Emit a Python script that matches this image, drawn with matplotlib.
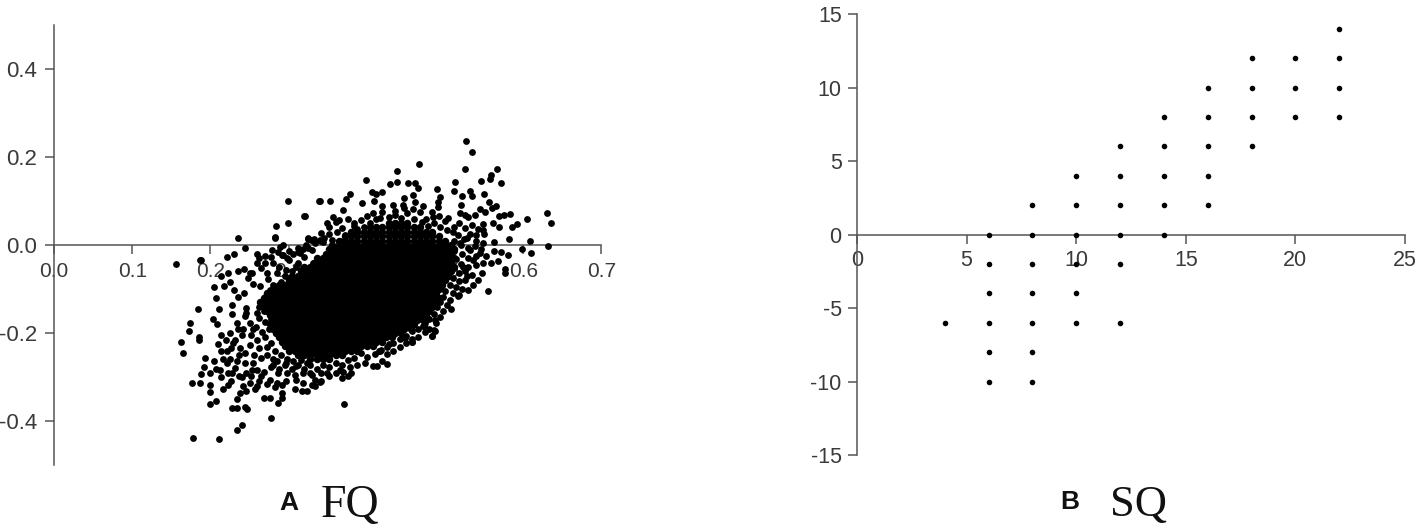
import matplotlib
matplotlib.use("Agg")
import matplotlib.pyplot as plt

W, H = 1417, 525
AXIS = "#555555"
TXT = "#3a3a3a"

# Panel A: outer points
fq_x = [.527,.535,.525,.566,.467,.439,.399,.559,.557,.546,.572,.513,.430,.439,.453,.462,.466,.490,.511,.532,.522,.534,.550,.407,.420,.412,.378,.459,.448,.493,.374,.340,.353,.394,.409,.462,.491,.556,.520,.565,.560,.545,.551,.419,.433,.446,.472,.459,.491,.631,.636,.605,.583,.575,.569,.539,.519,.525,.530,.561,.569,.592,.586,.549,.582,.609,.632,.599,.610,.580,.572,.563,.563,.559,.568,.577,.577,.555,.547,.542,.536,.530,.517,.508,.487,.486,.484,.473,.458,.449,.429,.417,.321,.325,.332,.341,.349,.357,.370,.364,.383,.342,.408,.417,.436,.447,.485,.504,.511,.528,.540,.549,.519,.532,.545,.536,.523,.528,
        .299,.339,.320,.284,.299,.235,.283,.325,.331,.244,.230,.221,.188,.260,.270,.279,.289,.301,.293,.312,.325,
        .282,.156,.187,.259,.292,.300,.223,.235,.243,.253,.248,.225,.214,.205,.218,.230,.255,.243,.235,.207,.184,.211,.228,.227,.246,.203,.209,.174,.173,.185,.186,.162,.165,.193,.204,.192,.188,.176,.187,.199,.199,.207,.199,.216,.222,.199,.207,.227,.234,.244,.247,.240,.234,.278,.178,.211,.371,.287,.292,.291,.234,.238,.246,.257,.268,.276,.308,.317,.323,.334,.342,.368,.376,.408,.413,.419,.426,.415,.458,.472,.487,.484,
        .210,.214,.221,.225,.214,.229,.238,.244,.225,.234,.244,.253,.221,.227,.236,.246,.251,.259,.265,.276,.285,.297,.310,.319,.334,.349,.366,.244,.251,.242,.255,.234,.259,.246,.270,.255,.259,.272,.285,.297,.310,.327,.251,.265,.272,.280,.315,.329,.340,.293,.319,.263,.276,.285,.297,.310,.331]
fq_y = [.236,.212,.172,.173,.184,.168,.148,.158,.149,.145,.142,.143,.138,.144,.140,.142,.129,.128,.123,.123,.112,.112,.117,.121,.121,.116,.115,.113,.107,.108,.104,.099,.099,.095,.101,.097,.098,.098,.092,.089,.083,.082,.076,.089,.091,.091,.089,.081,.087,.073,.049,.059,.071,.068,.066,.069,.072,.068,.064,.049,.042,.048,.042,.048,.013,.010,-.002,-.010,-.019,-.022,-.015,-.013,.006,-.041,-.037,-.054,-.063,-.105,-.064,-.079,-.091,-.102,-.117,-.145,-.170,-.194,-.206,-.185,-.221,-.211,-.226,-.241,.065,.015,.013,.010,.049,.064,.080,.057,.049,.028,.072,.061,.068,.083,.064,.061,.042,.015,.023,.034,.004,-.011,-.019,-.034,-.049,-.071,
        .100,.100,.066,.043,.050,.016,.018,.014,.011,-.007,-.020,-.027,-.034,-.020,-.025,-.011,-.005,-.014,-.023,-.016,-.007,
        .017,-.044,-.034,-.041,-.023,-.035,-.064,-.060,-.055,-.063,-.075,-.083,-.070,-.095,-.094,-.103,-.088,-.109,-.119,-.121,-.145,-.146,-.136,-.156,-.143,-.168,-.179,-.177,-.196,-.208,-.217,-.220,-.245,-.257,-.264,-.278,-.293,-.313,-.313,-.319,-.291,-.282,-.334,-.327,-.319,-.361,-.354,-.370,-.371,-.368,-.372,-.408,-.420,-.393,-.438,-.442,-.362,-.359,-.336,-.347,-.350,-.336,-.332,-.328,-.347,-.347,-.328,-.331,-.332,-.321,-.310,-.302,-.298,-.274,-.274,-.264,-.270,-.242,-.221,-.183,-.196,-.206,
        -.226,-.242,-.242,-.200,-.204,-.223,-.234,-.245,-.260,-.264,-.268,-.283,-.268,-.291,-.298,-.291,-.313,-.321,-.298,-.306,-.313,-.310,-.306,-.313,-.306,-.291,-.283,-.162,-.177,-.192,-.192,-.177,-.155,-.155,-.128,-.268,-.283,-.249,-.264,-.268,-.276,-.291,-.064,-.053,-.064,-.042,-.019,.011,.011,.000,-.008,-.094,-.102,-.064,-.057,-.049,-.042]

# Panel A: porous belt around the core, estimated point by point
fq_ring_x = [.352,.360,.368,.376,.384,.392,.352,.362,.372,.380,.388,.396,.345,.356,.366,.400,.404,.412,.420,.428,.436,.444,.452,.460,.468,.476,.484,.492,.500,.470,.478,.486,.494,.502,.510,.518,.526,.534,.542,.550,.516,.524,.532,.540,.548,.512,.520,.530,.538,.546,.552,.512,.522,.530,.540,.548,.514,.520,.530,.540,.512,.518,.526,.534,.510,.518,.526,.506,.514,.522,.500,.510,.518,.498,.506,.494,.503,.490,.498,.486,.494,.480,.488,.474,.480,.466,.474,.458,.466,.450,.458,.442,.450,.434,.442,.426,.434,.418,.426,.410,.400,.392,.384,.376,.398,.388,.378,.368,.360,.352,.344,.336,.328,.320,.312,.304,.296,.288,.280,
             .262,.270,.278,.258,.266,.275,.252,.260,.270,.278,.250,.262,.272,.282,.256,.265,.290,.298,.280,.306,.316,.324,.252,.262,.272,.282,.292,.268,.278,.286,.298,.308,.318,.330,.342,.352,.360,.370,.380,.340,.330,
             .235,.240,.232,.220,.226,.236,.216,.212,.222,.232,.240,.242,.214,.226,
             .268,.276,.262,.270,.278,.286,.280,.290,.274,.296,.304,.288,.312,.298,.306,.320,.330,.322,.334,.312,.344,.270,.278,.286,.262]
fq_ring_y = [.040,.052,.038,.060,.044,.056,.024,.030,.022,.030,.036,.040,.016,.012,.010,.066,.050,.060,.074,.064,.078,.062,.072,.060,.074,.058,.076,.066,.054,.052,.044,.050,.040,.034,.030,.050,.038,.046,.036,.026,.022,.014,.026,.010,.004,.008,.000,-.006,-.002,-.010,-.024,-.014,-.020,-.030,-.026,-.040,-.032,-.044,-.050,-.046,-.052,-.064,-.060,-.068,-.074,-.082,-.080,-.090,-.096,-.100,-.104,-.110,-.114,-.118,-.124,-.130,-.136,-.142,-.150,-.156,-.164,-.168,-.178,-.178,-.190,-.190,-.198,-.196,-.208,-.206,-.214,-.214,-.222,-.222,-.232,-.232,-.240,-.238,-.248,-.248,-.254,-.246,-.256,-.262,-.268,-.272,-.278,-.272,-.268,-.278,-.272,-.282,-.272,-.282,-.272,-.282,-.272,-.282,-.272,
             -.165,-.176,-.168,-.186,-.198,-.190,-.205,-.215,-.210,-.222,-.228,-.235,-.232,-.240,-.250,-.256,-.250,-.258,-.258,-.264,-.262,-.268,-.298,-.310,-.316,-.322,-.318,-.288,-.278,-.290,-.292,-.296,-.292,-.296,-.290,-.298,-.292,-.288,-.290,-.312,-.318,
             -.190,-.205,-.215,-.215,-.235,-.250,-.260,-.285,-.292,-.280,-.300,-.320,-.300,-.310,
             -.150,-.140,-.140,-.118,-.125,-.110,-.090,-.085,-.078,-.070,-.060,-.050,-.040,-.030,-.020,-.028,-.012,.000,.004,-.006,.006,-.040,-.028,-.016,-.030]

# Panel A: solid core, rough estimates (points cannot be told apart here)
fq_core_y = [.05,.04,.03,.02,.01,.00,-.01,-.02,-.03,-.04,-.05,-.06,-.07,-.08,-.09,-.10,-.11,-.12,-.13,-.14,-.15,-.16,-.17,-.18,-.19,-.20,-.21,-.22,-.23,-.24,-.25,-.26]
fq_core_x = [
 [.428,.436,.444,.452],
 [.404,.412,.420,.428,.436,.444,.452,.460,.468],
 [.380,.388,.396,.404,.412,.420,.428,.436,.444,.452,.460,.468,.476,.484],
 [.372,.380,.388,.396,.404,.412,.420,.428,.436,.444,.452,.460,.468,.476,.484,.492],
 [.364,.372,.380,.388,.396,.404,.412,.420,.428,.436,.444,.452,.460,.468,.476,.484,.492,.500],
 [.356,.364,.372,.380,.388,.396,.404,.412,.420,.428,.436,.444,.452,.460,.468,.476,.484,.492,.500,.508],
 [.352,.360,.368,.376,.384,.392,.400,.408,.416,.424,.432,.440,.448,.456,.464,.472,.480,.488,.496,.504,.512],
 [.348,.356,.364,.372,.380,.388,.396,.404,.412,.420,.428,.436,.444,.452,.460,.468,.476,.484,.492,.500,.508],
 [.336,.344,.352,.360,.368,.376,.384,.392,.400,.408,.416,.424,.432,.440,.448,.456,.464,.472,.480,.488,.496,.504,.512],
 [.332,.340,.348,.356,.364,.372,.380,.388,.396,.404,.412,.420,.428,.436,.444,.452,.460,.468,.476,.484,.492,.500,.508],
 [.320,.328,.336,.344,.352,.360,.368,.376,.384,.392,.400,.408,.416,.424,.432,.440,.448,.456,.464,.472,.480,.488,.496,.504,.512],
 [.316,.324,.332,.340,.348,.356,.364,.372,.380,.388,.396,.404,.412,.420,.428,.436,.444,.452,.460,.468,.476,.484,.492,.500,.508],
 [.304,.312,.320,.328,.336,.344,.352,.360,.368,.376,.384,.392,.400,.408,.416,.424,.432,.440,.448,.456,.464,.472,.480,.488,.496,.504],
 [.300,.308,.316,.324,.332,.340,.348,.356,.364,.372,.380,.388,.396,.404,.412,.420,.428,.436,.444,.452,.460,.468,.476,.484,.492,.500],
 [.288,.296,.304,.312,.320,.328,.336,.344,.352,.360,.368,.376,.384,.392,.400,.408,.416,.424,.432,.440,.448,.456,.464,.472,.480,.488,.496],
 [.284,.292,.300,.308,.316,.324,.332,.340,.348,.356,.364,.372,.380,.388,.396,.404,.412,.420,.428,.436,.444,.452,.460,.468,.476,.484,.492],
 [.272,.280,.288,.296,.304,.312,.320,.328,.336,.344,.352,.360,.368,.376,.384,.392,.400,.408,.416,.424,.432,.440,.448,.456,.464,.472,.480,.488],
 [.268,.276,.284,.292,.300,.308,.316,.324,.332,.340,.348,.356,.364,.372,.380,.388,.396,.404,.412,.420,.428,.436,.444,.452,.460,.468,.476,.484,.492],
 [.264,.272,.280,.288,.296,.304,.312,.320,.328,.336,.344,.352,.360,.368,.376,.384,.392,.400,.408,.416,.424,.432,.440,.448,.456,.464,.472,.480,.488],
 [.268,.276,.284,.292,.300,.308,.316,.324,.332,.340,.348,.356,.364,.372,.380,.388,.396,.404,.412,.420,.428,.436,.444,.452,.460,.468,.476,.484],
 [.272,.280,.288,.296,.304,.312,.320,.328,.336,.344,.352,.360,.368,.376,.384,.392,.400,.408,.416,.424,.432,.440,.448,.456,.464,.472,.480],
 [.276,.284,.292,.300,.308,.316,.324,.332,.340,.348,.356,.364,.372,.380,.388,.396,.404,.412,.420,.428,.436,.444,.452,.460,.468,.476],
 [.280,.288,.296,.304,.312,.320,.328,.336,.344,.352,.360,.368,.376,.384,.392,.400,.408,.416,.424,.432,.440,.448,.456,.464,.472],
 [.276,.284,.292,.300,.308,.316,.324,.332,.340,.348,.356,.364,.372,.380,.388,.396,.404,.412,.420,.428,.436,.444,.452,.460],
 [.280,.288,.296,.304,.312,.320,.328,.336,.344,.352,.360,.368,.376,.384,.392,.400,.408,.416,.424,.432,.440,.448,.456],
 [.284,.292,.300,.308,.316,.324,.332,.340,.348,.356,.364,.372,.380,.388,.396,.404,.412,.420,.428,.436,.444],
 [.288,.296,.304,.312,.320,.328,.336,.344,.352,.360,.368,.376,.384,.392,.400,.408,.416,.424,.432],
 [.292,.300,.308,.316,.324,.332,.340,.348,.356,.364,.372,.380,.388,.396,.404,.412,.420],
 [.296,.304,.312,.320,.328,.336,.344,.352,.360,.368,.376,.384,.392,.400,.408],
 [.300,.308,.316,.324,.332,.340,.348,.356,.364,.372,.380,.388],
 [.312,.320,.328,.336,.344,.352,.360,.368],
 [.328,.336,.344,.352],
]

# Panel B: x values and the y values drawn at each of them
sq_x_levels = [4, 6, 8, 10, 12, 14, 16, 18, 20, 22]
sq_y_levels = [
    [-6],
    [0, -2, -4, -6, -8, -10],
    [2, 0, -2, -4, -6, -8, -10],
    [4, 2, 0, -2, -4, -6],
    [6, 4, 2, 0, -2, -6],
    [8, 6, 4, 2, 0],
    [10, 8, 6, 4, 2],
    [12, 10, 8, 6],
    [12, 10, 8],
    [14, 12, 10, 8],
]

fq_xticks = [0.0, 0.1, 0.2, 0.3, 0.4, 0.5, 0.6, 0.7]
fq_yticks = [-0.4, -0.2, 0.0, 0.2, 0.4]
sq_xticks = [0, 5, 10, 15, 20, 25]
sq_yticks = [-15, -10, -5, 0, 5, 10, 15]

plt.rcParams["font.family"] = ["Liberation Sans", "DejaVu Sans"]
fig = plt.figure(figsize=(W / 100, H / 100), dpi=100, facecolor="white")


def make_axes(left, right, top, bottom):
    ax = fig.add_axes([left / W, 1 - bottom / H, (right - left) / W, (bottom - top) / H])
    ax.patch.set_alpha(0)
    ax.set_axisbelow(True)
    for side in ("top", "right"):
        ax.spines[side].set_visible(False)
    ax.spines["left"].set_position(("data", 0))
    ax.spines["bottom"].set_position(("data", 0))
    for side in ("left", "bottom"):
        ax.spines[side].set_color(AXIS)
        ax.spines[side].set_linewidth(1.1)
        ax.spines[side].set_zorder(0.6)
    ax.tick_params(axis="both", length=6.5, width=1.1, color=AXIS, labelcolor=TXT)
    return ax


axA = make_axes(54, 601.4, 25, 465)
axA.set_xlim(0, 0.7)
axA.set_ylim(-0.5, 0.5)
axA.set_xticks(fq_xticks, [f"{v:.1f}" for v in fq_xticks], fontsize=15)
axA.set_yticks(fq_yticks, [f"{v:.1f}" for v in fq_yticks], fontsize=16)
axA.tick_params(axis="x", pad=6)
axA.tick_params(axis="y", pad=5.5)
axA.scatter(fq_x, fq_y, s=24, c="black", linewidths=0, zorder=3)
axA.scatter(fq_ring_x, fq_ring_y, s=24, c="black", linewidths=0, zorder=3)
core_x = [x for row in fq_core_x for x in row]
core_y = [y for y, row in zip(fq_core_y, fq_core_x) for _ in row]
axA.scatter(core_x, core_y, s=29, c="black", linewidths=0, zorder=3)

axB = make_axes(857, 1405, 14, 455)
axB.set_xlim(0, 25)
axB.set_ylim(-15, 15)
axB.set_xticks(sq_xticks, [str(v) for v in sq_xticks], fontsize=15.5)
axB.set_yticks(sq_yticks, [str(v) for v in sq_yticks], fontsize=15.5)
axB.tick_params(axis="x", pad=5)
axB.tick_params(axis="y", pad=4.5)
bx = [x for x, ys in zip(sq_x_levels, sq_y_levels) for _ in ys]
by = [y for ys in sq_y_levels for y in ys]
axB.scatter(bx, by, s=16, c="black", linewidths=0, zorder=3)


def caption(x, y, text, **kw):
    fig.text(x / W, 1 - y / H, text, ha="left", va="baseline", color="#111111", **kw)


caption(279, 510, "A", fontsize=19, fontweight="bold", family="Liberation Sans")
caption(321, 517, "FQ", fontsize=33, family="Liberation Serif")
caption(1060, 509, "B", fontsize=19, fontweight="bold", family="Liberation Sans")
caption(1110, 516, "SQ", fontsize=32, family="Liberation Serif")

fig.savefig("out.png", dpi=100, facecolor="white")
